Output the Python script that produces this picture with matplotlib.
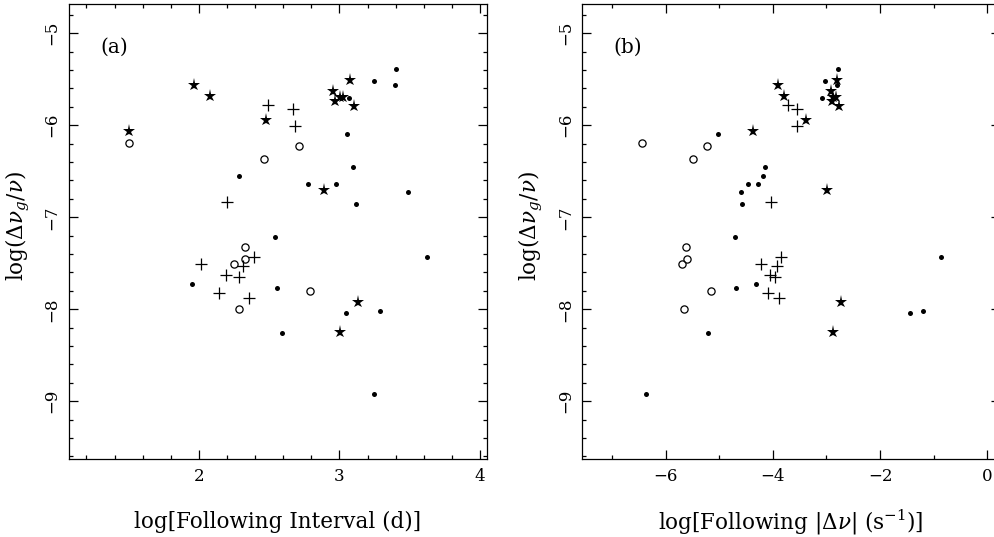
import matplotlib
matplotlib.use('Agg')
import matplotlib.pyplot as plt
from matplotlib.ticker import MultipleLocator

plt.rcParams['font.family'] = 'DejaVu Serif'
plt.rcParams['mathtext.fontset'] = 'dejavuserif'

# stars
star_y = [-6.062, -5.562, -5.685, -5.939, -5.511, -5.623, -5.739, -5.696, -5.689, -5.790, -6.700, -7.921, -8.247]
star_interval = [1.505, 1.964, 2.076, 2.478, 3.075, 2.955, 2.969, 3.002, 3.028, 3.100, 2.891, 3.135, 3.002]
star_dnu = [-4.371, -3.899, -3.793, -3.388, -2.797, -2.912, -2.903, -2.873, -2.823, -2.764, -2.985, -2.729, -2.873]

# plus signs
plus_y = [-5.783, -5.819, -6.004, -6.837, -7.428, -7.508, -7.526, -7.630, -7.645, -7.823, -7.881]
plus_interval = [2.495, 2.666, 2.684, 2.201, 2.391, 2.017, 2.315, 2.192, 2.282, 2.140, 2.360]
plus_dnu = [-3.724, -3.556, -3.545, -4.029, -3.843, -4.216, -3.918, -4.054, -3.961, -4.097, -3.881]

# open circles
circ_y = [-6.192, -6.221, -6.370, -7.319, -7.453, -7.508, -7.805, -8.000]
circ_interval = [1.505, 2.713, 2.460, 2.329, 2.325, 2.247, 2.787, 2.284]
circ_dnu = [-6.437, -5.229, -5.485, -5.621, -5.608, -5.696, -5.155, -5.659]

# filled dots
dot_y = [-5.391, -5.522, -5.565, -5.703, -6.098, -6.453, -6.551, -6.635, -6.635, -6.722,
         -6.855, -7.217, -7.432, -7.721, -7.768, -8.037, -8.022, -8.254, -8.921]
dot_interval = [3.402, 3.244, 3.398, 3.068, 3.054, 3.095, 2.282, 2.777, 2.976, 3.488,
                3.118, 2.540, 3.625, 1.950, 2.557, 3.043, 3.289, 2.592, 3.244]
dot_dnu = [-2.785, -3.022, -2.804, -3.084, -5.018, -4.153, -4.179, -4.470, -4.272, -4.590,
           -4.571, -4.707, -0.864, -4.310, -4.688, -1.448, -1.200, -5.216, -6.362]

ylabel = r'$\mathrm{log}(\Delta\nu_{g}/\nu)$'

fig = plt.figure(figsize=(9.95, 5.37), dpi=100)
ax_a = fig.add_axes([0.0693, 0.1453, 0.420, 0.8464])
ax_b = fig.add_axes([0.5852, 0.1453, 0.420, 0.8464])


def draw(ax, xs, xlabel, tag):
    xs_star, xs_plus, xs_circ, xs_dot = xs
    ax.plot(xs_dot, dot_y, 'o', color='black', ms=3.6, mew=0)
    ax.plot(xs_circ, circ_y, 'o', mfc='none', mec='black', ms=5.2, mew=0.9)
    ax.plot(xs_plus, plus_y, '+', color='black', ms=9, mew=0.9)
    ax.plot(xs_star, star_y, '*', color='black', ms=9.5, mew=0)
    ax.set_ylim(-9.627, -4.687)
    ax.yaxis.set_major_locator(MultipleLocator(1))
    ax.yaxis.set_minor_locator(MultipleLocator(0.2))
    ax.tick_params(which='both', direction='in', top=True, right=True, width=0.9)
    ax.tick_params(which='major', length=6.5, labelsize=12)
    ax.tick_params(which='minor', length=3.2)
    ax.tick_params(axis='x', pad=6.5)
    ax.tick_params(axis='y', pad=6)
    for lab in ax.get_yticklabels():
        lab.set_rotation(90)
        lab.set_va('center')
    ax.set_ylabel(ylabel, fontsize=15.5, va='center')
    ax.yaxis.set_label_coords(-0.122, 0.513)
    ax.set_xlabel(xlabel, fontsize=15.5, va='center')
    ax.xaxis.set_label_coords(0.5, -0.139)
    ax.text(0.074, 0.905, tag, transform=ax.transAxes, fontsize=14.5,
            ha='left', va='center')
    for sp in ax.spines.values():
        sp.set_linewidth(0.9)


ax_a.set_xlim(1.076, 4.048)
ax_a.xaxis.set_major_locator(MultipleLocator(1))
ax_a.xaxis.set_minor_locator(MultipleLocator(0.2))
draw(ax_a, (star_interval, plus_interval, circ_interval, dot_interval),
     'log[Following Interval (d)]', '(a)')

ax_b.set_xlim(-7.556, 0.24)
ax_b.xaxis.set_major_locator(MultipleLocator(2))
ax_b.xaxis.set_minor_locator(MultipleLocator(1))
draw(ax_b, (star_dnu, plus_dnu, circ_dnu, dot_dnu),
     r'log[Following $|\Delta\nu|$ (s$^{-1}$)]', '(b)')

fig.savefig('out.png', dpi=100)
